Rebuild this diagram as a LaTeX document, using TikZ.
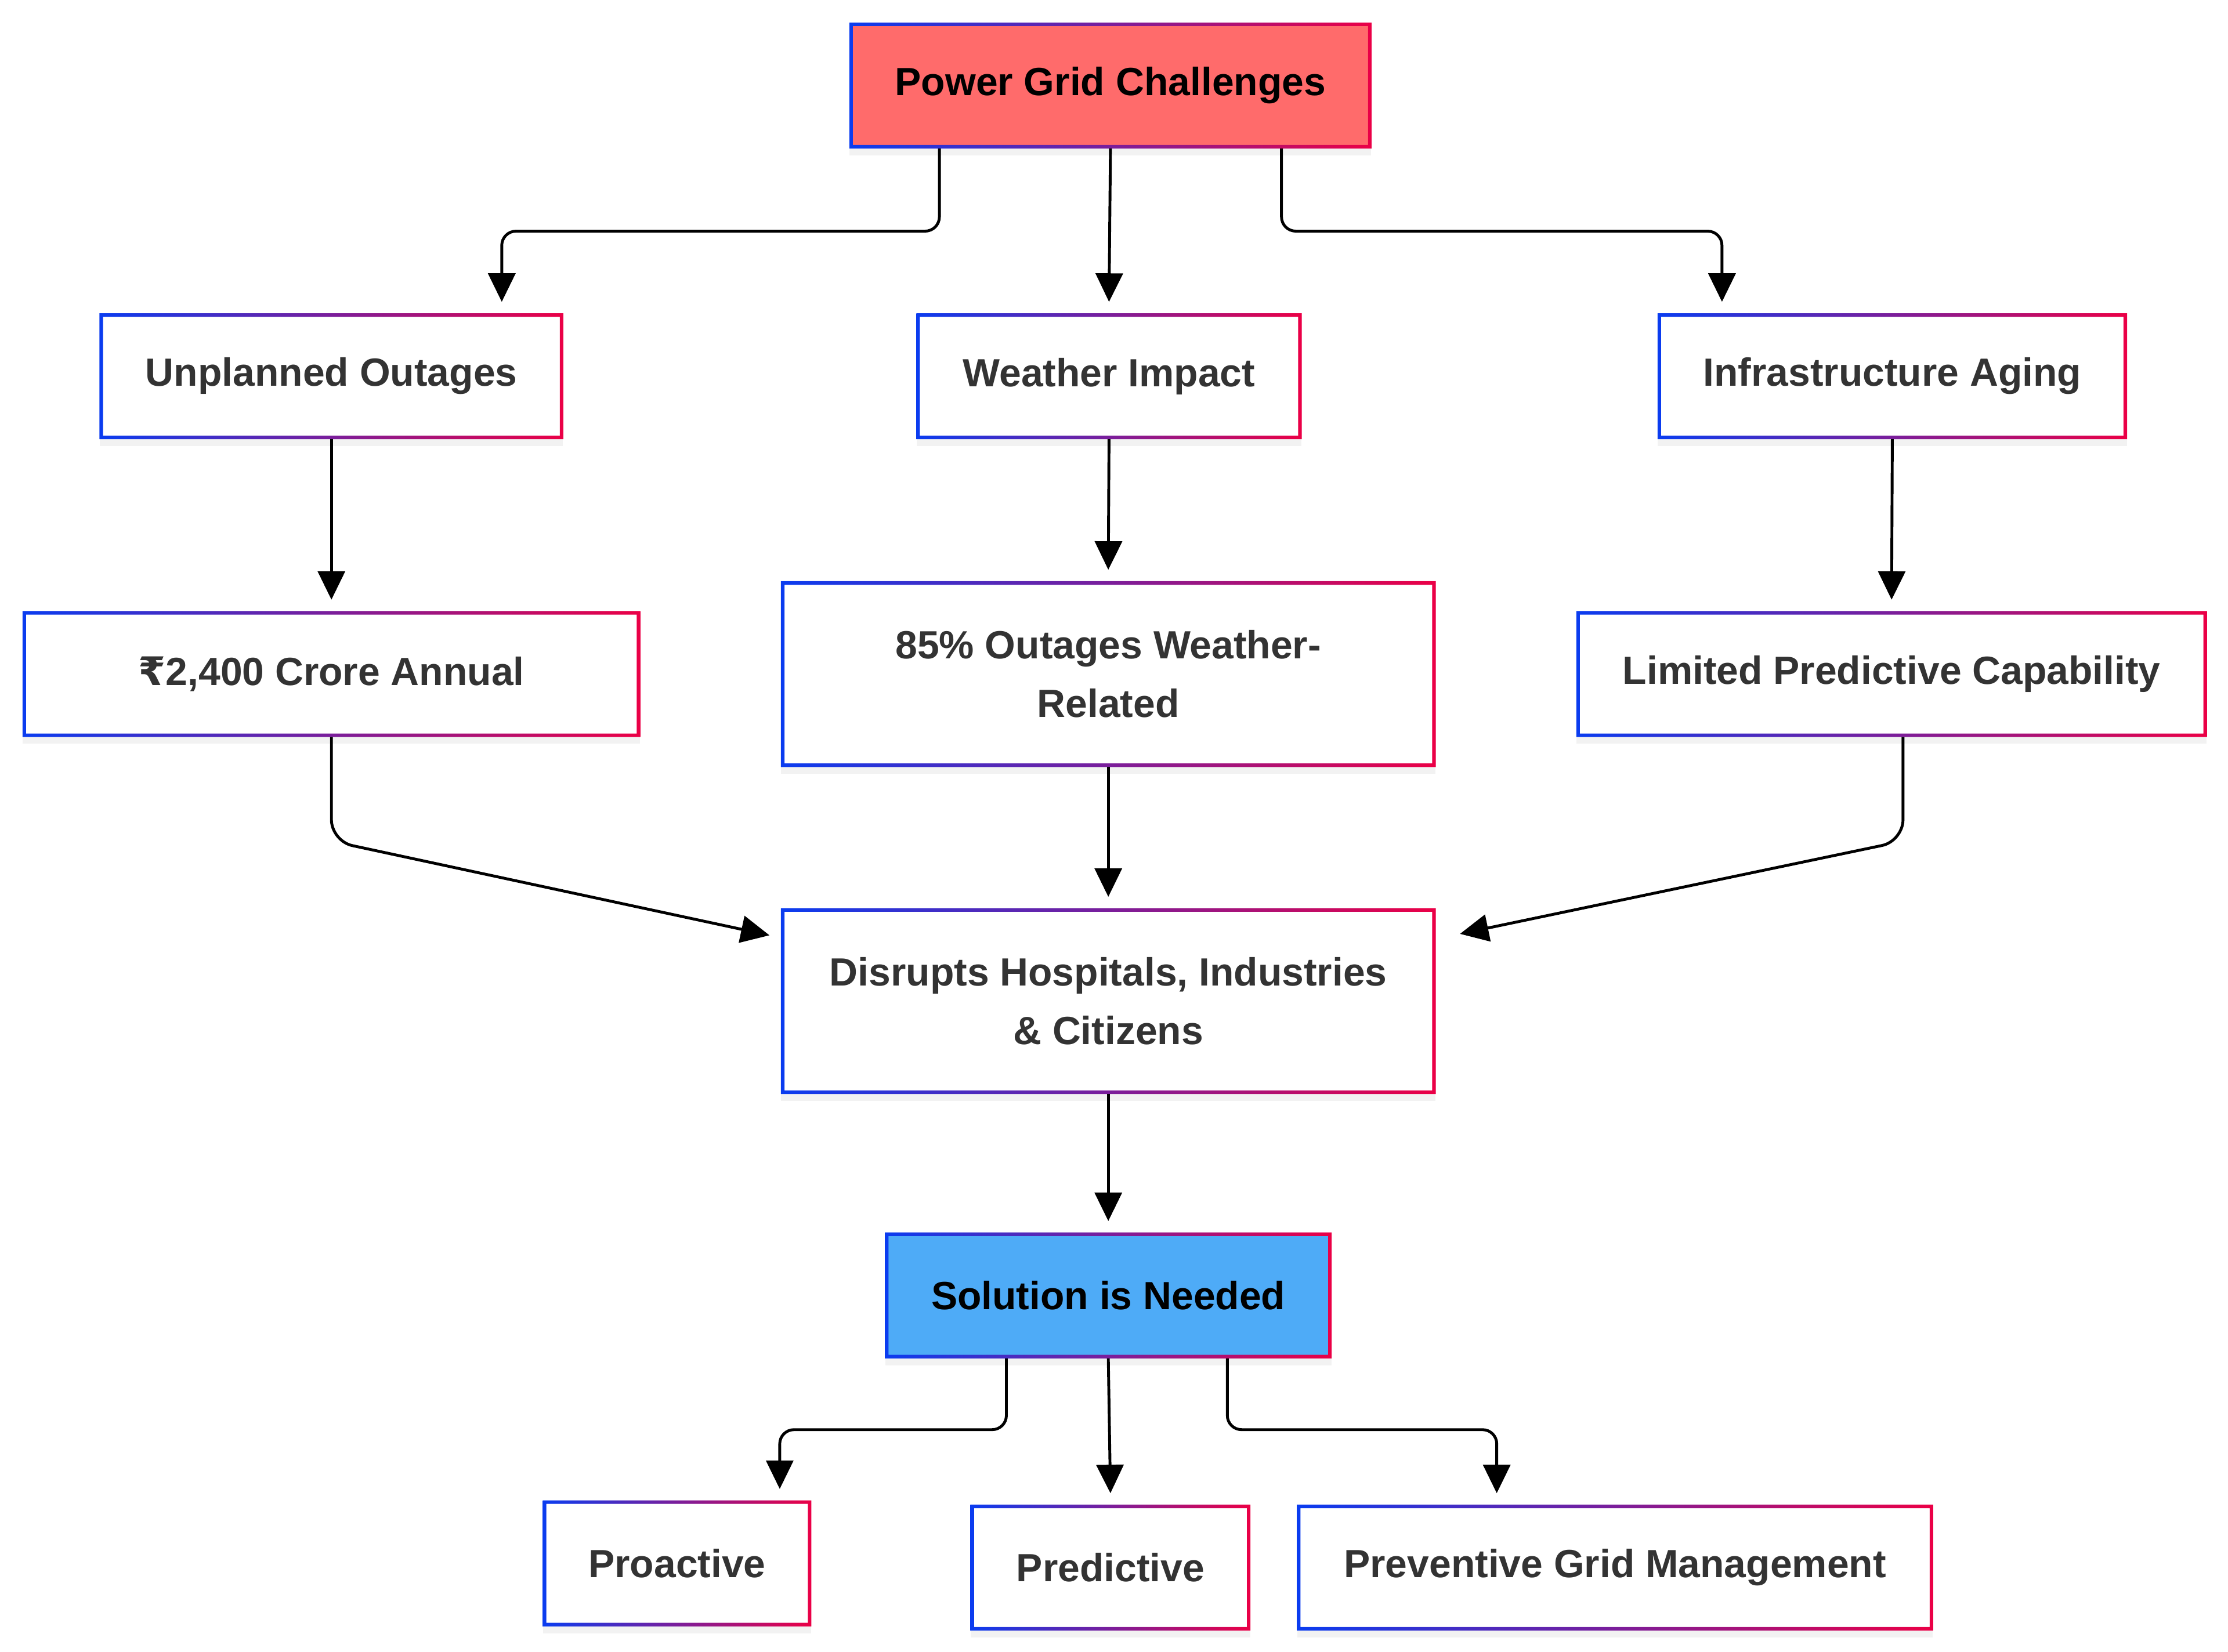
\documentclass[tikz,border=0pt]{standalone}
\usepackage{fontspec}
\setmainfont{Liberation Sans}
\newfontfamily\rupeefont{DejaVu Sans}
\usetikzlibrary{arrows.meta,shadows}
\definecolor{edgeblue}{RGB}{10,60,240}
\definecolor{edgered}{RGB}{235,0,70}
\definecolor{headred}{RGB}{255,107,107}
\definecolor{solblue}{RGB}{78,171,247}
\definecolor{txtgray}{RGB}{51,51,51}
\newcommand\boxfont{\fontsize{27.6}{41}\selectfont\bfseries}
\newcommand\gradborder[1]{%
  \shade[left color=edgeblue, right color=edgered, even odd rule]
    (#1.north west) rectangle (#1.south east)
    ([xshift=2.5pt,yshift=-2.5pt]#1.north west) rectangle ([xshift=-2.5pt,yshift=2.5pt]#1.south east);}
\tikzset{
  box/.style = {rectangle, fill=white, text=txtgray, inner sep=0pt,
                minimum width=#1, minimum height=88pt, align=center,
                font=\boxfont,
                drop shadow={opacity=0.10, shadow xshift=0pt, shadow yshift=-5pt}},
  box/.default = 300pt,
  tall/.style = {minimum height=130pt},
  arr/.style = {-{Triangle[length=20pt,width=19pt]}, line width=2pt,
                rounded corners=10pt}
}

\begin{document}
\begin{tikzpicture}[x=1pt,y=-1pt]
	\useasboundingbox (0,0) rectangle (1563,1159);

	% Top
	\node[box=366pt, fill=headred, text=black] (grid) at (779,60) {Power Grid Challenges};

	% Challenges
	\node[box=325pt] (unpl) at (232.5,264) {Unplanned Outages};
	\node[box=270pt] (weat) at (778,264) {Weather Impact};
	\node[box=329pt] (infra) at (1327.5,264) {Infrastructure Aging};

	% Facts
	\node[box=433pt] (cost) at (232.5,473) {{\rupeefont ₹}2,400 Crore Annual};
	\node[box=459pt, tall] (wrel) at (777.5,473) {85\% Outages Weather-\\Related};
	\node[box=442pt] (limit) at (1327,473) {Limited Predictive Capability};

	% Impact
	\node[box=459pt, tall] (disr) at (777.5,702.5) {Disrupts Hospitals, Industries\\\& Citizens};

	% Solution
	\node[box=313pt, fill=solblue, text=black] (sol) at (777.5,909) {Solution is Needed};
	\node[box=188pt] (proa) at (475,1097) {Proactive};
	\node[box=196pt] (pred) at (779,1100) {Predictive};
	\node[box=446pt] (prev) at (1133,1100) {Preventive Grid Management};

	% Borders
	\foreach \n in {grid,unpl,weat,infra,cost,wrel,limit,disr,sol,proa,pred,prev}
		{\gradborder{\n}}

	% Arrow ends
	\coordinate (dl) at ([xshift=-8pt,yshift=-19pt]disr.north west);
	\coordinate (dr) at ([xshift=17pt,yshift=-18pt]disr.north east);

	% Edges
	\draw[arr] ([xshift=-120pt]grid.south) -- ++(0,58) -| ([xshift=119.5pt,yshift=8pt]unpl.north);
	\draw[arr] (grid.south) -- ([yshift=8pt]weat.north);
	\draw[arr] ([xshift=120pt]grid.south) -- ++(0,58) -| ([xshift=-119.5pt,yshift=8pt]infra.north);

	\draw[arr] (unpl.south) -- ([yshift=8pt]cost.north);
	\draw[arr] (weat.south) -- ([yshift=8pt]wrel.north);
	\draw[arr] (infra.south) -- ([yshift=8pt]limit.north);

	\draw[arr, rounded corners=15pt] (cost.south) -- ++(0,73) -- (dl);
	\draw[arr] (wrel.south) -- ([yshift=8pt]disr.north);
	\draw[arr, rounded corners=15pt] ([xshift=8pt]limit.south) -- ++(0,73) -- (dr);

	\draw[arr] (disr.south) -- ([yshift=8pt]sol.north);

	\draw[arr] ([xshift=-71.5pt]sol.south) -- ++(0,50) -| ([xshift=72pt,yshift=8pt]proa.north);
	\draw[arr] (sol.south) -- ([yshift=8pt]pred.north);
	\draw[arr] ([xshift=83.5pt]sol.south) -- ++(0,50) -| ([xshift=-83pt,yshift=8pt]prev.north);
\end{tikzpicture}
\end{document}
